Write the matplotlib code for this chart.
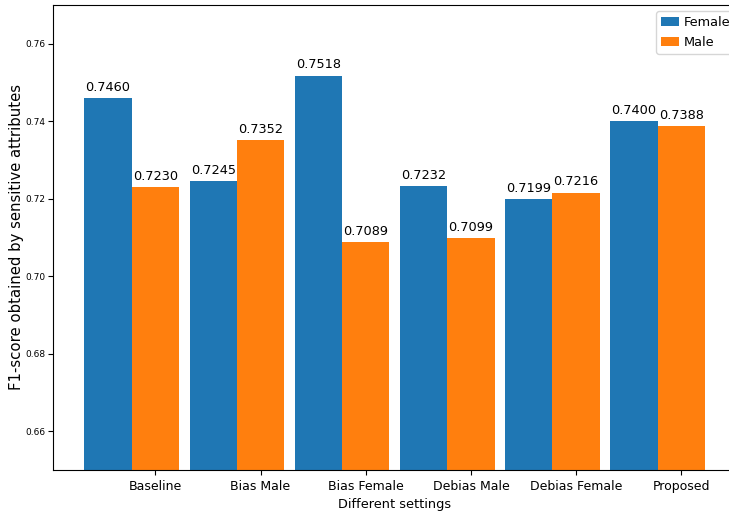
import matplotlib
matplotlib.use('Agg')
import matplotlib.pyplot as plt
import numpy as np

settings = ['Baseline', 'Bias Male', 'Bias Female', 'Debias Male', 'Debias Female', 'Proposed']
female = [0.7460, 0.7245, 0.7518, 0.7232, 0.7199, 0.7400]
male = [0.7230, 0.7352, 0.7089, 0.7099, 0.7216, 0.7388]

W, H = 729, 515
fig = plt.figure(figsize=(W / 100, H / 100), dpi=100)
# axes runs a bit past the right edge of the picture, like the reference
ax = fig.add_axes([53.3 / W, 45 / H, (736 - 53.3) / W, 465 / H])

x = np.arange(len(settings))
width = 0.45
b1 = ax.bar(x, female, width, label='Female', color='#1f77b4')
b2 = ax.bar(x + width, male, width, label='Male', color='#ff7f0e')

ax.bar_label(b1, fmt='%.4f', padding=3, fontsize=9.3)
ax.bar_label(b2, fmt='%.4f', padding=3, fontsize=9.3)

ax.set_ylim(0.65, 0.77)
ax.set_yticks([0.66, 0.68, 0.70, 0.72, 0.74, 0.76])
ax.tick_params(axis='y', labelsize=6.5, pad=2)
ax.set_xticks(x + width)
ax.set_xticklabels(settings, fontsize=9)

ax.set_xlabel('Different settings', fontsize=9.3)
ax.set_ylabel('F1-score obtained by sensitive attributes', fontsize=10.7)
ax.yaxis.set_label_coords(-0.043, 0.5)

ax.legend(loc='upper left', bbox_to_anchor=(656 / W, 504 / H),
          bbox_transform=fig.transFigure, borderaxespad=0,
          fontsize=9.3, handlelength=1.35, handletextpad=0.4)

plt.savefig('out.png', dpi=100, facecolor='white')
plt.close()
